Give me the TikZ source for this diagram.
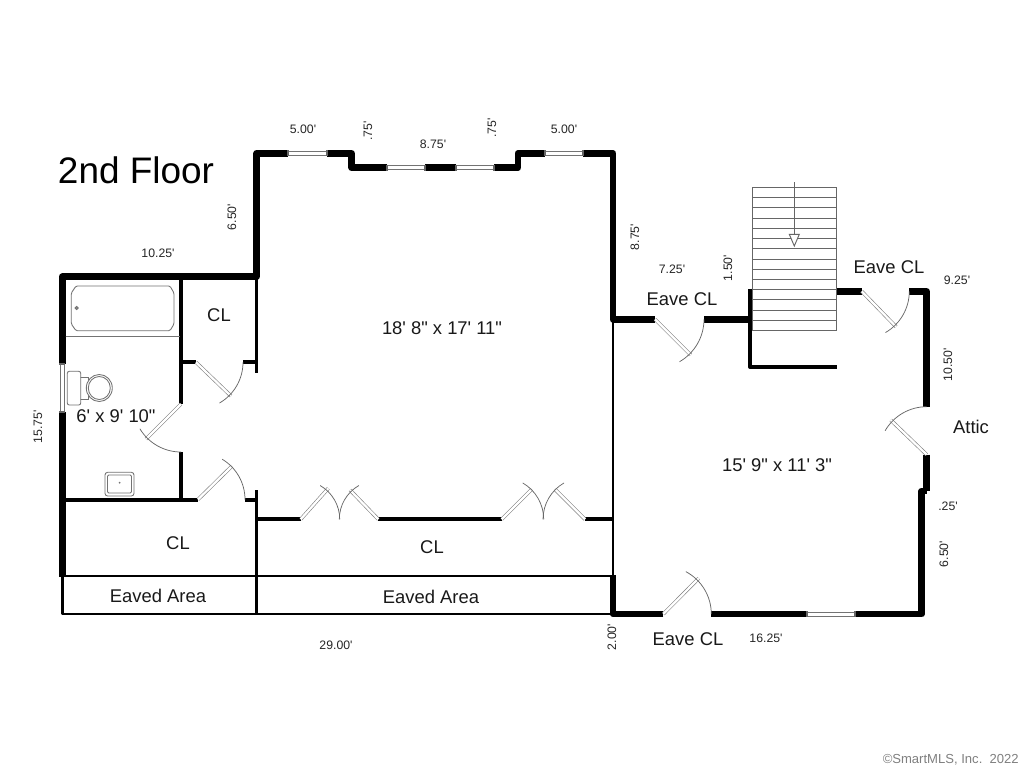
\documentclass[tikz,border=0pt]{standalone}
\usepackage{fontspec}
\newfontfamily\planfont{Liberation Sans}
\tikzset{>=stealth,
  wallthick/.style={line width=4.9pt,line join=round,black},
  wallmid/.style={line width=3pt,line join=round,black},
  wallthin/.style={line width=2.2pt,line join=round,black},
  doorleaf/.style={draw=black!50,line width=0.45pt,double=white,double distance=1.7pt},
  doorswing/.style={draw=black!60,line width=0.55pt},
  winbox/.style={draw=black!55,fill=white,line width=0.55pt},
  wincap/.style={black!60,line width=1.3pt},
  fixture/.style={draw=black!55,line width=0.65pt,fill=white},
  tread/.style={black!60,line width=0.7pt},
  roomlabel/.style={font=\planfont\fontsize{13.8}{15}\selectfont,text=black!90,inner sep=0pt},
  dimlabel/.style={font=\planfont\fontsize{9.2}{11}\selectfont,text=black!85,inner sep=0pt},
}
\newcommand{\winH}[3]{%
  \draw[winbox] (#1,#3-2) rectangle (#2,#3+2);
  \draw[wincap] (#1,#3-3) -- (#1,#3+3);
  \draw[wincap] (#2,#3-3) -- (#2,#3+3);}
\newcommand{\winV}[3]{%
  \draw[winbox] (#3-2,#1) rectangle (#3+2,#2);
  \draw[wincap] (#3-3,#1) -- (#3+3,#1);
  \draw[wincap] (#3-3,#2) -- (#3+3,#2);}
\begin{document}
\begin{tikzpicture}[x=0.75pt,y=-0.75pt]
\useasboundingbox (0,0) rectangle (1024,768);
\fill[white] (0,0) rectangle (1024,768);
% stairs
\draw[tread] (752.3,187.3) rectangle (836.7,330.7);
\foreach \k in {1,...,13}
  \draw[tread] (752.3,187.3+\k*10.24) -- (836.7,187.3+\k*10.24);
\draw[tread] (794.3,182.3) -- (794.3,234.3);
\draw[tread,fill=white] (789.3,234.3) -- (799.3,234.3) -- (794.3,246) -- cycle;
% outer walls
\draw[wallthick] (62.3,364) -- (62.3,276.7) -- (256.7,276.7) -- (256.7,153.3) -- (288,153.3);
\draw[wallthick] (327,153.3) -- (351.7,153.3) -- (351.7,167.7) -- (386.7,167.7);
\draw[wallthick] (425,167.7) -- (455.7,167.7);
\draw[wallthick] (494,167.7) -- (518,167.7) -- (518,153.3) -- (545,153.3);
\draw[wallthick] (583,153.3) -- (613,153.3) -- (613,319.3) -- (655,319.3);
\draw[wallthick] (704,319.3) -- (750,319.3);
\draw[wallthick] (837,291.3) -- (861.7,291.3);
\draw[wallthick] (909.3,291.3) -- (926.7,291.3) -- (926.7,406.7);
\draw[wallthick] (926.7,454.7) -- (926.7,491);
\draw[wallthick] (926.7,491) -- (921.7,491) -- (921.7,614) -- (855,614);
\draw[wallthick] (807.3,614) -- (711.3,614);
\draw[wallthick] (663.3,614) -- (613,614) -- (613,575);
\draw[wallthick] (62.3,412) -- (62.3,577);
% inner walls
\draw[wallmid] (750,288.7) -- (750,367) -- (837,367);
\draw[wallmid] (181,276.7) -- (181,404);
\draw[wallmid] (181,452) -- (181,499.5);
\draw[wallmid] (62.3,499.5) -- (198,499.5);
\draw[wallmid] (245,499.5) -- (257,499.5);
\draw[wallmid] (181,362.3) -- (196,362.3);
\draw[wallmid] (243,362.3) -- (257,362.3);
\draw[wallthin] (256.7,276.7) -- (256.7,373);
\draw[wallthin] (256.7,490) -- (256.7,614);
\draw[wallthin] (62.3,577) -- (62.3,614) -- (613,614);
\draw[wallthin,line width=1.6pt] (62.3,576) -- (613,576);
\draw[wallthin] (613,319.3) -- (613,575);
\draw[wallmid] (256.7,519.3) -- (300.7,519.3);
\draw[wallmid] (378.3,519.3) -- (501.7,519.3);
\draw[wallmid] (585,519.3) -- (613,519.3);
% windows
\winH{288}{327}{153.3}
\winH{386.7}{425}{167.7}
\winH{455.7}{494}{167.7}
\winH{545}{583}{153.3}
\winH{807.3}{855}{614}
\winV{364}{412}{62.3}
% doors
\draw[doorleaf] (663.3,614) -- (698.7,578.3);
\draw[doorswing] (711.3,614) arc[start angle=0,end angle=-62,radius=48];
\draw[doorleaf] (655,319.3) -- (690.7,355);
\draw[doorswing] (704,319.3) arc[start angle=0,end angle=60,radius=49];
\draw[doorleaf] (861.7,291.3) -- (896,326.7);
\draw[doorswing] (909.3,291.3) arc[start angle=0,end angle=60,radius=47.6];
\draw[doorleaf] (926.7,454.7) -- (890.7,420);
\draw[doorswing] (926.7,406.7) arc[start angle=-90,end angle=-150,radius=48];
\draw[doorleaf] (196,362.3) -- (231,396);
\draw[doorswing] (243,362.3) arc[start angle=0,end angle=60,radius=47];
\draw[doorleaf] (181,404) -- (146,439);
\draw[doorswing] (181,452) arc[start angle=90,end angle=149,radius=48];
\draw[doorleaf] (198,499.5) -- (232,466);
\draw[doorswing] (245,499.5) arc[start angle=0,end angle=-59,radius=47];
\draw[doorleaf] (300.7,519.3) -- (328.3,488.3);
\draw[doorswing] (339.7,519.3) arc[start angle=0,end angle=-60,radius=39];
\draw[doorleaf] (378.3,519.3) -- (350,490);
\draw[doorswing] (339.3,519.3) arc[start angle=180,end angle=240,radius=39];
\draw[doorleaf] (501.7,519.3) -- (531.7,489.3);
\draw[doorswing] (543.7,519.3) arc[start angle=0,end angle=-60,radius=42];
\draw[doorleaf] (585,519.3) -- (555,489.3);
\draw[doorswing] (543,519.3) arc[start angle=180,end angle=240,radius=42];
% bathroom fixtures
\draw[fixture] (65.5,336.3) -- (179.5,336.3);
\draw[fixture,rounded corners=1pt] (76,286) -- (170,286) -- (174,293) -- (174,324) -- (170,330.7)
  -- (76,330.7) -- (71.3,324) -- (71.3,293) -- cycle;
\draw[fixture,fill=black!45] (76.7,308) circle (1.6);
\draw[fixture] (79,377) -- (88,377) -- (88,399) -- (79,399);
\draw[fixture] (99.3,388) ellipse (13 and 13.5);
\draw[fixture] (99.3,388) ellipse (11 and 11.5);
\draw[fixture,rounded corners=1.5pt] (67.3,371.3) rectangle (80.7,405);
\draw[fixture,rounded corners=2pt] (105,472.3) rectangle (134,496);
\draw[fixture,rounded corners=1pt] (107.5,475) rectangle (131.5,493);
\fill[black!55] (119.7,482.7) circle (1);
% labels
\node[font=\planfont\fontsize{27.7}{30}\selectfont,inner sep=0pt] (title) at (136,170) {2nd Floor};
\node[roomlabel] (closetA) at (219,315) {CL};
\node[roomlabel] (bath) at (116,416) {6' x 9' 10"};
\node[roomlabel] (closetB) at (178,543) {CL};
\node[roomlabel] (eavedA) at (158,596) {Eaved Area};
\node[roomlabel] (closetC) at (432,547) {CL};
\node[roomlabel] (eavedB) at (431,597) {Eaved Area};
\node[roomlabel] (mainroom) at (442,328) {18' 8" x 17' 11"};
\node[roomlabel] (eaveA) at (682,299) {Eave CL};
\node[roomlabel] (eaveB) at (889,267) {Eave CL};
\node[roomlabel] (attic) at (971,427) {Attic};
\node[roomlabel] (eastroom) at (777,465) {15' 9" x 11' 3"};
\node[roomlabel] (eaveC) at (688,639) {Eave CL};
\node[dimlabel] (dimA) at (303,129) {5.00'};
\node[dimlabel,rotate=90] (dimB) at (368,131) {.75'};
\node[dimlabel] (dimC) at (433,144) {8.75'};
\node[dimlabel,rotate=90] (dimD) at (492,128) {.75'};
\node[dimlabel] (dimE) at (564,129) {5.00'};
\node[dimlabel,rotate=90] (dimF) at (232,217) {6.50'};
\node[dimlabel] (dimG) at (158,253) {10.25'};
\node[dimlabel,rotate=90] (dimH) at (635,237) {8.75'};
\node[dimlabel] (dimI) at (672,269) {7.25'};
\node[dimlabel,rotate=90] (dimJ) at (728,268) {1.50'};
\node[dimlabel] (dimK) at (957,280) {9.25'};
\node[dimlabel,rotate=90] (dimL) at (948,365) {10.50'};
\node[dimlabel] (dimM) at (948,506) {.25'};
\node[dimlabel,rotate=90] (dimN) at (944,554) {6.50'};
\node[dimlabel] (dimO) at (766,638) {16.25'};
\node[dimlabel,rotate=90] (dimP) at (612,637) {2.00'};
\node[dimlabel] (dimQ) at (336,645) {29.00'};
\node[dimlabel,rotate=90] (dimR) at (38,427) {15.75'};
\node[font=\planfont\fontsize{9.8}{11}\selectfont,text=black!50,inner sep=0pt,anchor=east] (credit) at (1019,760) {©SmartMLS, Inc.\ \ 2022};
\end{tikzpicture}
\end{document}
